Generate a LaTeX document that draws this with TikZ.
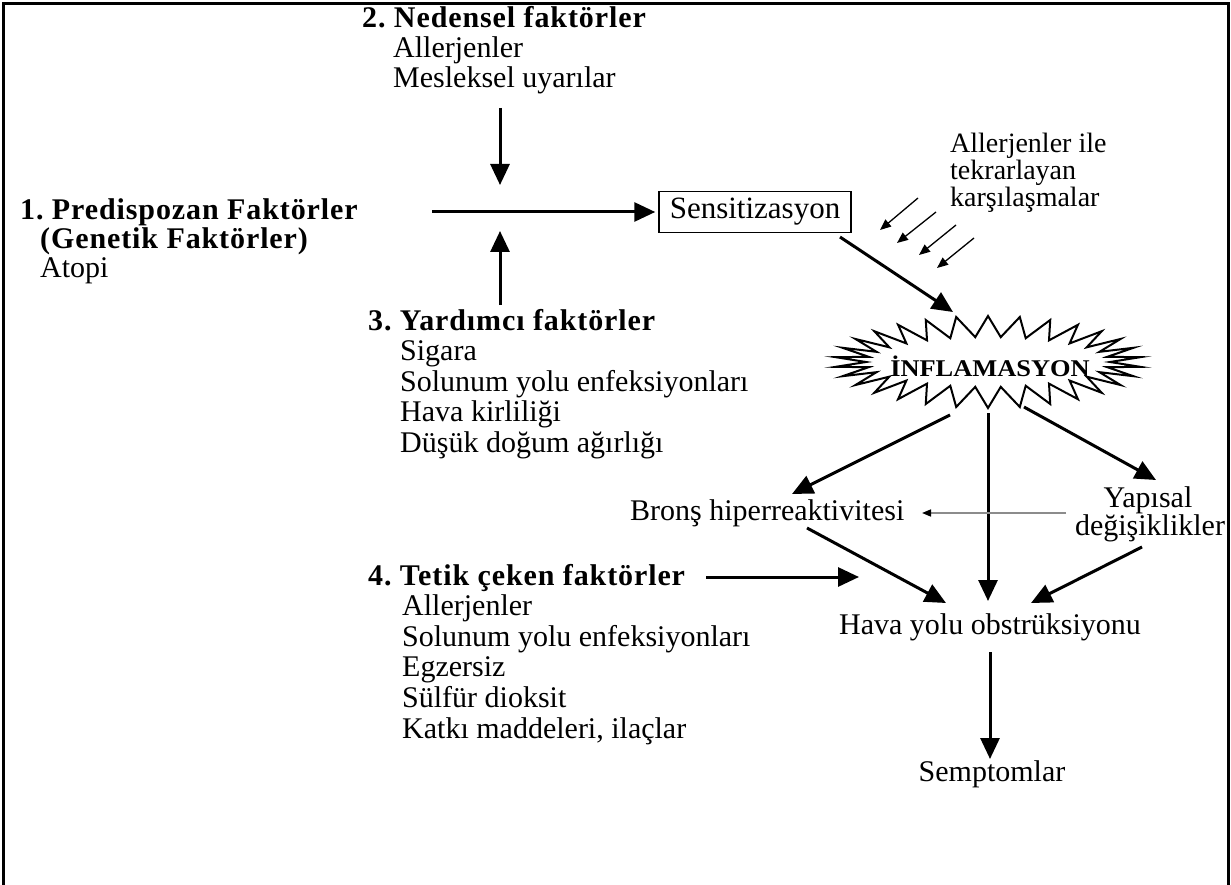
\documentclass[tikz,border=0pt]{standalone}
\usepackage{fontspec}
\setmainfont{Liberation Serif}
\usetikzlibrary{arrows.meta}
\frenchspacing
\begin{document}
\begin{tikzpicture}[x=1pt,y=-1pt,
  txt/.style={anchor=base west, inner sep=0pt, font=\fontsize{30}{30}\selectfont},
  hd/.style={anchor=base west, inner sep=0pt, font=\fontsize{30}{30}\selectfont\bfseries\addfontfeature{LetterSpace=3}},
  ctxt/.style={anchor=base, inner sep=0pt, font=\fontsize{30}{30}\selectfont},
  bigarrow/.style={line width=3pt, -{Triangle[length=21pt,width=19pt]}},
  thinarrow/.style={line width=1.3pt, -{Triangle[length=11pt,width=9pt]}},
  grayarrow/.style={line width=1.6pt, draw=black!45, -{Triangle[length=9pt,width=7pt,color=black]}}]
\useasboundingbox (0,0) rectangle (1231,885);
% frame
\draw[line width=3pt] (3,890) -- (3,4) -- (1228,4) -- (1228,890);

% block 2
\node[hd]  (ned0) at (362,28) {2. Nedensel faktörler};
\node[txt] (ned1) at (393,58) {Allerjenler};
\node[txt] (ned2) at (393,88) {Mesleksel uyarılar};

% block 1
\node[hd]  (pre0) at (20,220) {1. Predispozan Faktörler};
\node[hd]  (pre1) at (40,249) {(Genetik Faktörler)};
\node[txt] (pre2) at (40,278) {Atopi};

% block 3
\node[hd]  (yar0) at (368,330) {3. Yardımcı faktörler};
\node[txt] (yar1) at (400,360.5) {Sigara};
\node[txt] (yar2) at (400,391) {Solunum yolu enfeksiyonları};
\node[txt] (yar3) at (400,421.5) {Hava kirliliği};
\node[txt] (yar4) at (400,452) {Düşük doğum ağırlığı};

% block 4
\node[hd]  (tet0) at (368,585) {4. Tetik çeken faktörler};
\node[txt] (tet1) at (402,615) {Allerjenler};
\node[txt] (tet2) at (402,646) {Solunum yolu enfeksiyonları};
\node[txt] (tet3) at (402,676) {Egzersiz};
\node[txt] (tet4) at (402,707) {Sülfür dioksit};
\node[txt] (tet5) at (402,738) {Katkı maddeleri, ilaçlar};

% sensitization
\node[draw, line width=1.5pt, minimum width=192pt, minimum height=41pt, inner sep=0pt,
      font=\fontsize{31}{31}\selectfont] (sens) at (755,212) {Sensitizasyon};

\node[anchor=base west, inner sep=0pt, font=\fontsize{28}{27}\selectfont] (al1) at (950,153) {Allerjenler ile};
\node[anchor=base west, inner sep=0pt, font=\fontsize{28}{27}\selectfont] (al2) at (950,180) {tekrarlayan};
\node[anchor=base west, inner sep=0pt, font=\fontsize{28}{27}\selectfont] (al3) at (950,207) {karşılaşmalar};

% burst
\draw[line width=2pt, line join=miter, miter limit=20] (1110,362)
  \foreach \i in {0,...,29} {
    -- ({988+153*cos(\i*12+6)},{362+46*sin(\i*12+6)})
    -- ({988+122*cos((\i+1)*12)},{362+25*sin((\i+1)*12)})
  } -- cycle;
\node[inner sep=0pt, font=\fontsize{24}{24}\selectfont\bfseries] (infl) at (990,366) {\scalebox{1.1}[1]{İNFLAMASYON}};

% lower nodes
\node[txt] (bron) at (630,520) {Bronş hiperreaktivitesi};
\node[ctxt] (yap1) at (1148,507) {Yapısal};
\node[ctxt] (yap2) at (1150,535) {değişiklikler};
\node[ctxt] (hava) at (990,634) {Hava yolu obstrüksiyonu};
\node[ctxt] (semp) at (992,781) {Semptomlar};

% coordinates for connector ends
\coordinate (nedA) at (500,108);
\coordinate (nedB) at (500,185);
\coordinate (horA) at (432,212);
\coordinate (yarA) at (500,305);
\coordinate (yarB) at (500,231);
\coordinate (sensOut) at (840,237);
\coordinate (inflIn) at (953,312);
\coordinate (inflL) at (950,415);
\coordinate (bronIn) at (792,494);
\coordinate (inflM) at (988,413);
\coordinate (havaInM) at (988,601);
\coordinate (inflR) at (1024,407);
\coordinate (yapIn) at (1156,480);
\coordinate (yapOut) at (1066,513);
\coordinate (bronR) at (922,513);
\coordinate (bronOut) at (807,528);
\coordinate (havaInL) at (946,603);
\coordinate (yapOut2) at (1142,547);
\coordinate (havaInR) at (1031,603);
\coordinate (tetA) at (706,577);
\coordinate (tetB) at (859,577);
\coordinate (havaOut) at (990,652);
\coordinate (sempIn) at (990,759);

% connectors
\draw[bigarrow] (nedA) -- (nedB);
\draw[bigarrow] (horA) -- ([xshift=-3pt]sens.west);
\draw[bigarrow] (yarA) -- (yarB);
\draw[bigarrow] (sensOut) -- (inflIn);
\draw[bigarrow] (inflL) -- (bronIn);
\draw[bigarrow] (inflM) -- (havaInM);
\draw[bigarrow] (inflR) -- (yapIn);
\draw[grayarrow] (yapOut) -- (bronR);
\draw[bigarrow] (bronOut) -- (havaInL);
\draw[bigarrow] (yapOut2) -- (havaInR);
\draw[bigarrow] (tetA) -- (tetB);
\draw[bigarrow] (havaOut) -- (sempIn);

% repeated encounters arrows
\coordinate (s1a) at (918,198); \coordinate (s1b) at (880,230);
\coordinate (s2a) at (936,212); \coordinate (s2b) at (897,243);
\coordinate (s3a) at (956,225); \coordinate (s3b) at (919,255);
\coordinate (s4a) at (974,238); \coordinate (s4b) at (937,268);
\draw[thinarrow] (s1a) -- (s1b);
\draw[thinarrow] (s2a) -- (s2b);
\draw[thinarrow] (s3a) -- (s3b);
\draw[thinarrow] (s4a) -- (s4b);
\end{tikzpicture}
\end{document}
